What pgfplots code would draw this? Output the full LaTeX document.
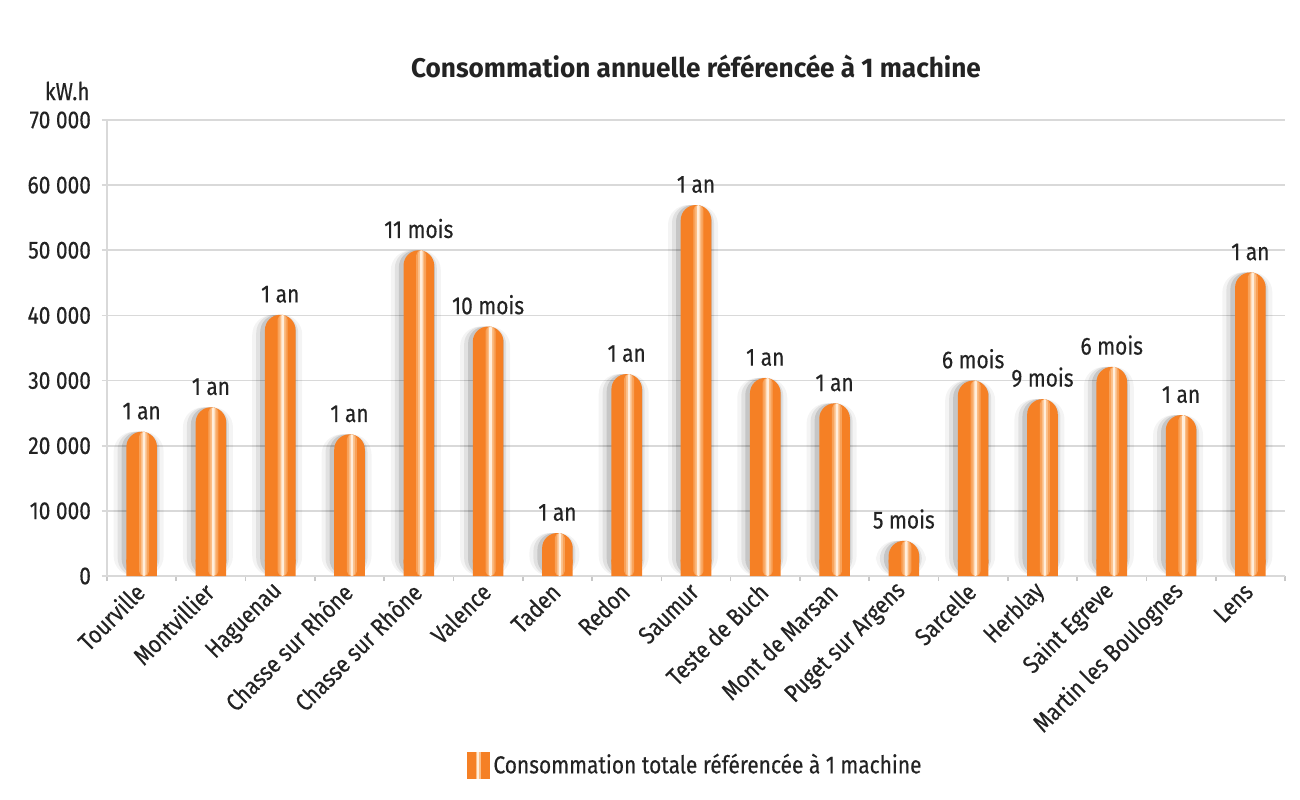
\documentclass[border=0pt]{standalone}
\usepackage{fontspec}
\setmainfont{Fira Sans}[FakeStretch=0.85, FakeBold=0.4]
\newfontfamily\titlefont{Fira Sans}[FakeStretch=0.97]
\usepackage{pgfplots}
\usepackage{pgfplotstable}
\pgfplotsset{compat=1.18}
\definecolor{barorange}{RGB}{245,128,37}
\definecolor{barlight}{RGB}{251,190,135}
\definecolor{barpale}{RGB}{255,238,220}
\definecolor{gridgray}{RGB}{217,217,217}
\definecolor{tickgray}{RGB}{200,200,200}
\definecolor{txt}{RGB}{35,35,35}
\newcommand{\lblfont}{\fontsize{12.3bp}{14bp}\selectfont}

\pgfplotstableread[col sep=comma]{
x,y,c,lab
0,22150,2500,1 an
1,25900,2500,1 an
2,40100,2500,1 an
3,21750,2500,1 an
4,50000,2500,11 mois
5,38300,2500,10 mois
6,6600,2500,1 an
7,31000,2500,1 an
8,56950,2500,1 an
9,30400,2500,1 an
10,26500,2500,1 an
11,5400,2500,5 mois
12,30000,2500,6 mois
13,27150,2500,9 mois
14,32100,2500,6 mois
15,24700,2500,1 an
16,46600,2500,1 an
}\datatable

\begin{document}
\begin{tikzpicture}
\path[use as bounding box] (-53.5bp,-112bp) rectangle (596.5bp,288bp);
\begin{axis}[
  name=ax,
  at={(0,0)}, anchor=south west,
  scale only axis, width=589bp, height=228bp,
  xmin=-0.5, xmax=16.5, ymin=0, ymax=70000,
  enlarge x limits=false, enlarge y limits=false,
  scaled y ticks=false,
  ybar, bar width=15.3bp,
  axis x line*=bottom, axis y line*=left,
  axis line style={-, gridgray, line width=0.8bp},
  tick align=outside,
  ytick={0,10000,20000,30000,40000,50000,60000,70000},
  yticklabels={0,10 000,20 000,30 000,40 000,50 000,60 000,70 000},
  ymajorgrids,
  major grid style={gridgray, line width=0.8bp},
  ytick style={gridgray, line width=0.8bp},
  major tick length=2.5bp,
  minor tick length=2.5bp,
  xtick={0,...,16},
  major x tick style={draw=none},
  minor xtick={-0.5,0.5,...,16.5},
  minor x tick style={tickgray, line width=0.8bp},
  xticklabels={Tourville,Montvillier,Haguenau,Chasse sur Rhône,Chasse sur Rhône,Valence,Taden,Redon,Saumur,Teste de Buch,Mont de Marsan,Puget sur Argens,Sarcelle,Herblay,Saint Egreve,Martin les Boulognes,Lens},
  xticklabel style={yshift=-2.5bp, rotate=45, anchor=east, font=\lblfont, text=txt, inner sep=1bp},
  yticklabel style={font=\lblfont, text=txt, xshift=-2bp},
  title={Consommation annuelle référencée à 1 machine},
  title style={at={(0.5,1.092)}, anchor=center, font=\titlefont\bfseries\fontsize{13.5bp}{16bp}\selectfont, text=txt},
  legend style={at={(0.5,-0.4145)}, anchor=center, draw=none, fill=none, font=\lblfont, text=txt,
    /tikz/every even column/.append style={column sep=2bp}},
  legend image code/.code={
    \fill[barorange, sharp corners] (0bp,-6.75bp) rectangle (11.5bp,6.75bp);
    \fill[barlight, sharp corners] (4.6bp,-6.75bp) rectangle (7.2bp,6.75bp);
    \fill[barpale, sharp corners] (5.4bp,-6.75bp) rectangle (6.4bp,6.75bp);
  },
]
% soft shadow layers
\addplot[bar shift=-1.5bp, bar width=25bp, fill=black, fill opacity=0.045, draw=none, rounded corners=10bp, forget plot] table[x=x,y=y] {\datatable};
\addplot[bar shift=-1.5bp, bar width=21bp, fill=black, fill opacity=0.08, draw=none, rounded corners=9bp, forget plot] table[x=x,y=y] {\datatable};
\addplot[bar shift=-1bp, bar width=18bp, fill=black, fill opacity=0.12, draw=none, rounded corners=8.5bp, forget plot] table[x=x,y=y] {\datatable};
% bars
\addplot[bar shift=0pt, draw=none, fill=barorange, rounded corners=7.6bp,
  nodes near coords, point meta=explicit symbolic,
  every node near coord/.append style={font=\lblfont, text=txt, anchor=south, yshift=2.5bp}]
  table[x=x,y=y,meta=lab] {\datatable};
\addlegendentry{Consommation totale référencée à 1 machine}
% square bottoms
\addplot[bar shift=0pt, draw=none, fill=barorange, forget plot] table[x=x,y=c] {\datatable};
% highlight stripe
\addplot[bar shift=1.2bp, bar width=5bp, draw=none, fill=barlight, fill opacity=0.55, rounded corners=2.4bp, forget plot] table[x=x,y=y] {\datatable};
\addplot[bar shift=1.2bp, bar width=3bp, draw=none, fill=barlight, rounded corners=1.4bp, forget plot] table[x=x,y=y] {\datatable};
\addplot[bar shift=1.2bp, bar width=1.3bp, draw=none, fill=barpale, rounded corners=0.6bp, forget plot] table[x=x,y=y] {\datatable};
\end{axis}
\node[anchor=east, inner sep=0pt, font=\lblfont, text=txt, xshift=-8.5bp, yshift=14.5bp] at (ax.north west) {kW.h};
\end{tikzpicture}
\end{document}
